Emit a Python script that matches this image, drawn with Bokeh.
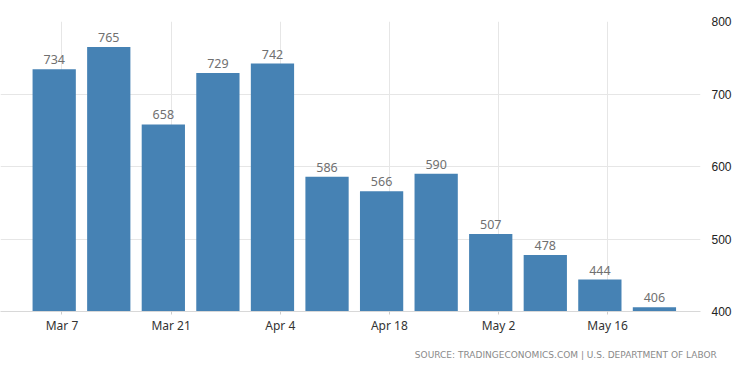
import pandas as pd
from bokeh.plotting import figure
from bokeh.models import ColumnDataSource, FixedTicker, DatetimeTickFormatter, Range1d, Title
from bokeh.core.properties import value
from bokeh.embed import file_html
from bokeh.resources import INLINE

# Data
week_dates = ["2021-03-06", "2021-03-13", "2021-03-20", "2021-03-27", "2021-04-03", "2021-04-10",
              "2021-04-17", "2021-04-24", "2021-05-01", "2021-05-08", "2021-05-15", "2021-05-22"]
claims = [734, 765, 658, 729, 742, 586, 566, 590, 507, 478, 444, 406]
tick_dates = ["2021-03-07", "2021-03-21", "2021-04-04", "2021-04-18", "2021-05-02", "2021-05-16"]
y_ticks = [400, 500, 600, 700, 800]
source_text = "SOURCE: TRADINGECONOMICS.COM  |  U.S. DEPARTMENT OF LABOR"

x = pd.to_datetime(week_dates)
src = ColumnDataSource(dict(x=x, top=claims, label=[str(v) for v in claims]))

DAY = 86400000.0
first = pd.Timestamp(week_dates[0])
x_start = first - pd.Timedelta(days=6.889)
x_end = first + pd.Timedelta(days=82.91)

p = figure(width=734, height=370, x_axis_type="datetime", y_axis_location="right",
           output_backend="svg", toolbar_location=None,
           x_range=Range1d(x_start, x_end), y_range=Range1d(400, 800),
           min_border_top=21, min_border_left=0, min_border_right=29, min_border_bottom=54)
p.outline_line_color = None
p.background_fill_color = "white"

p.vbar(x="x", top="top", bottom=400, width=5.55 * DAY, source=src,
       fill_color="#4682b4", line_color=None)
p.text(x="x", y="top", text="label", source=src, text_align="center", text_baseline="bottom",
       y_offset=-5, text_font=value("Noto Sans"), text_font_size="12.5px", text_color="#707070")

tick_ms = [pd.Timestamp(t).value / 1e6 for t in tick_dates]
p.xaxis.ticker = FixedTicker(ticks=tick_ms)
p.xaxis.formatter = DatetimeTickFormatter(days="%b %-d", months="%b %-d")
p.xaxis.axis_line_color = "#d8d8d8"
p.xaxis.major_tick_line_color = "#cccccc"
p.xaxis.major_tick_out = 3
p.xaxis.major_tick_in = 0
p.xaxis.minor_tick_line_color = None
p.xaxis.major_label_standoff = 2
p.xaxis.major_label_text_font = "Noto Sans"
p.xaxis.major_label_text_font_size = "12px"
p.xaxis.major_label_text_color = "#333333"

p.yaxis.ticker = FixedTicker(ticks=y_ticks)
p.yaxis.axis_line_color = None
p.yaxis.major_tick_line_color = None
p.yaxis.minor_tick_line_color = None
p.yaxis.major_label_standoff = 5
p.yaxis.major_label_text_font = "Liberation Sans"
p.yaxis.major_label_text_font_size = "12px"
p.yaxis.major_label_text_color = "#222222"

p.xgrid.grid_line_color = "#e6e6e6"
p.ygrid.grid_line_color = "#e6e6e6"

t = Title(text=source_text, align="right", text_font="DejaVu Sans", text_font_size="9px",
          text_color="#8a8a8a", text_font_style="normal", offset=-22, standoff=22)
p.add_layout(t, "below")

open("out.html", "w").write(file_html(p, INLINE))
